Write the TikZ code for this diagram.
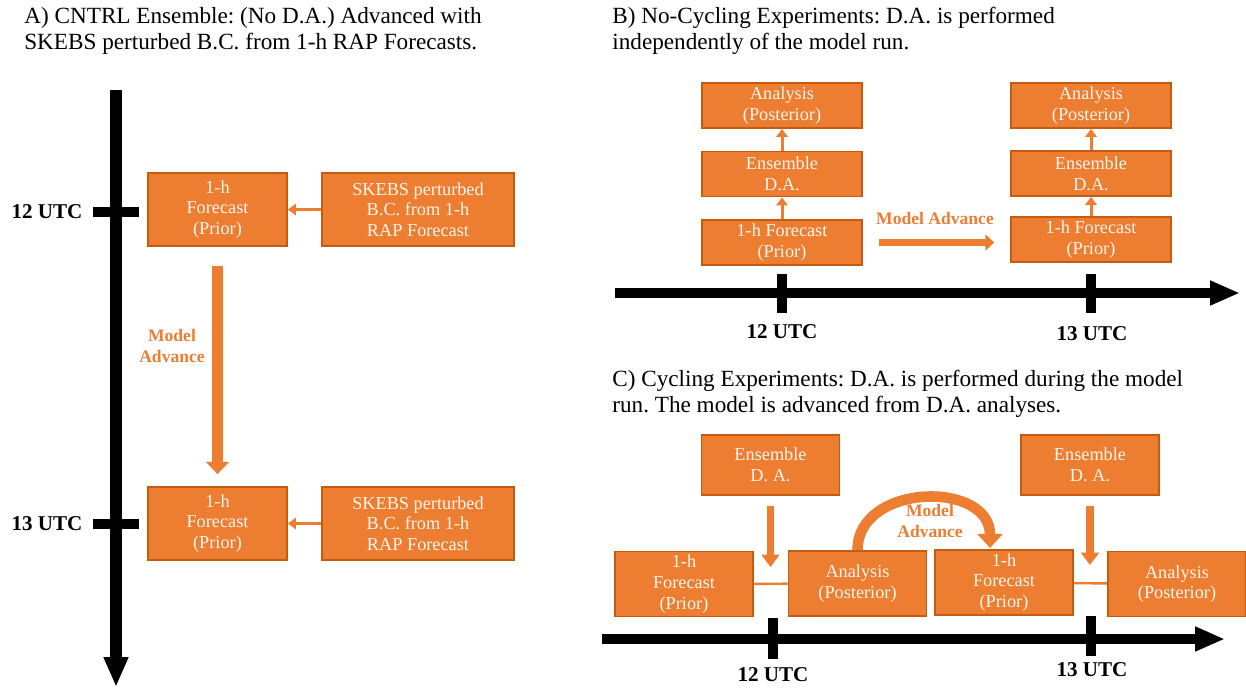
\documentclass[tikz,border=0pt]{standalone}
\usepackage{fontspec}
\setmainfont{Liberation Serif}
\usetikzlibrary{arrows.meta}
\definecolor{Orange}{HTML}{ED7D31}
\definecolor{OrangeLine}{HTML}{C55A11}
\definecolor{BoxText}{HTML}{FFF6EE}
\newcommand{\pxu}{0.02cm}
\newcommand{\titlefont}{\fontsize{13.2}{14.8}\selectfont}
\newcommand{\boxfont}{\fontsize{10.4}{11.8}\selectfont}
\newcommand{\utcfont}{\fontsize{12}{14}\selectfont\bfseries}
\newcommand{\advfont}{\fontsize{10}{12.4}\selectfont\bfseries}
\frenchspacing

\begin{document}
\begin{tikzpicture}[
  x=0.02cm, y=-0.02cm,
  box/.style={rectangle, draw=OrangeLine, line width=1.1pt, fill=Orange, text=BoxText, align=center, font=\boxfont, inner sep=0pt},
  boxA/.style={box, minimum width=139*\pxu, minimum height=73*\pxu},
  boxSk/.style={box, minimum width=192*\pxu, minimum height=73*\pxu},
  boxB/.style={box, minimum width=160*\pxu, minimum height=45*\pxu},
  boxC/.style={box, minimum width=138*\pxu, minimum height=65*\pxu},
  boxE/.style={box, minimum width=138*\pxu, minimum height=60*\pxu},
  title/.style={anchor=west, align=left, inner sep=0pt, font=\titlefont},
  utc/.style={inner sep=0pt, font=\utcfont},
  advance/.style={inner sep=0pt, align=center, text=Orange, font=\advfont},
  axis/.style={line width=5.7pt, -{Triangle[width=13pt,length=17pt]}},
  tick/.style={line width=5.7pt},
  thinarrow/.style={draw=Orange, line width=1.7pt, -{Triangle[width=6.5pt,length=4.5pt]}},
  bigarrow/.style={draw=Orange, line width=5.7pt, -{Triangle[width=13pt,length=7pt]}},
  link/.style={draw=Orange, line width=1.4pt}
]
\useasboundingbox (0,0) rectangle (1246,687);

% A) control ensemble
\node[title] (titleA) at (24,31) {A) CNTRL Ensemble: (No D.A.) Advanced with\\SKEBS perturbed B.C. from 1-h RAP Forecasts.};
\coordinate (axAtop) at (116,90);
\coordinate (axAend) at (116,687);
\draw[axis, line width=6.8pt] (axAtop) -- (axAend);
\draw[tick] (93,212) -- (139,212);
\draw[tick] (93,524) -- (139,524);
\node[utc] (utcA12) at (47,212) {12 UTC};
\node[utc] (utcA13) at (47,524) {13 UTC};

\node[boxA] (fcA12) at (217.5,209.5) {1-h\\Forecast\\(Prior)};
\node[boxSk] (skA12) at (418,209.5) {SKEBS perturbed\\B.C. from 1-h\\RAP Forecast};
\node[boxA] (fcA13) at (217.5,523.5) {1-h\\Forecast\\(Prior)};
\node[boxSk] (skA13) at (418,523.5) {SKEBS perturbed\\B.C. from 1-h\\RAP Forecast};

\draw[thinarrow] (skA12) -- (fcA12);
\draw[thinarrow] (skA13) -- (fcA13);
\draw[bigarrow, shorten <=11pt, shorten >=6.8pt] (fcA12) -- (fcA13);
\node[advance] (advA) at (172,346) {Model\\Advance};

% B) no-cycling
\node[title] (titleB) at (612,31) {B) No-Cycling Experiments: D.A. is performed\\independently of the model run.};
\node[boxB] (anB12) at (782,105.5) {Analysis\\(Posterior)};
\node[boxB] (daB12) at (782,174) {Ensemble\\D.A.};
\node[boxB] (fcB12) at (782,242.5) {1-h Forecast\\(Prior)};
\node[boxB] (anB13) at (1091,105.5) {Analysis\\(Posterior)};
\node[boxB] (daB13) at (1091,173.5) {Ensemble\\D.A.};
\node[boxB] (fcB13) at (1091,239.5) {1-h Forecast\\(Prior)};

\draw[thinarrow] (fcB12) -- (daB12);
\draw[thinarrow] (daB12) -- (anB12);
\draw[thinarrow] (fcB13) -- (daB13);
\draw[thinarrow] (daB13) -- (anB13);
\draw[bigarrow, line width=4.5pt, -{Triangle[width=9pt,length=5pt]}, shorten <=9pt, shorten >=9pt] (fcB12.east) -- (fcB12.east -| fcB13.west);
\node[advance] (advB) at (935,218) {Model Advance};

\coordinate (axBstart) at (615,293);
\coordinate (axBend) at (1240,293);
\draw[axis] (axBstart) -- (axBend);
\draw[tick] (782,274) -- (782,313);
\draw[tick] (1091,274) -- (1091,313);
\node[utc] (utcB12) at (782,332) {12 UTC};
\node[utc] (utcB13) at (1092,334) {13 UTC};

% C) cycling
\node[title] (titleC) at (612,393.5) {C) Cycling Experiments: D.A. is performed during the model\\run. The model is advanced from D.A. analyses.};
\node[boxE] (daC12) at (770.5,465) {Ensemble\\D. A.};
\node[boxE] (daC13) at (1090,465) {Ensemble\\D. A.};
\node[boxC] (fcC12) at (684,584) {1-h\\Forecast\\(Prior)};
\node[boxC] (anC12) at (857.5,583.5) {Analysis\\(Posterior)};
\node[boxC] (fcC13) at (1004,582.5) {1-h\\Forecast\\(Prior)};
\node[boxC] (anC13) at (1177,584) {Analysis\\(Posterior)};

\coordinate (dropC12) at (770.5,567);
\coordinate (dropC13) at (1090,565);
\coordinate (landC13) at (990,548);
\draw[bigarrow, line width=4.5pt, -{Triangle[width=10pt,length=7pt]}, shorten <=5.7pt] (daC12.south) -- (dropC12);
\draw[bigarrow, line width=4.5pt, -{Triangle[width=10pt,length=7pt]}, shorten <=5.7pt] (daC13.south) -- (dropC13);
\draw[link] (fcC12) -- (anC12);
\draw[link] (fcC13) -- (anC13);
\draw[bigarrow, line width=6pt, -{Triangle[width=14pt,length=8pt]}] (anC12.north) .. controls (857.5,483) and (990,480) .. (landC13);
\node[advance] (advC) at (930,521) {Model\\Advance};

\coordinate (axCstart) at (602,639);
\coordinate (axCend) at (1225,639);
\draw[axis] (axCstart) -- (axCend);
\draw[tick] (773,618) -- (773,659);
\draw[tick] (1091,616) -- (1091,656);
\node[utc] (utcC12) at (773,675) {12 UTC};
\node[utc] (utcC13) at (1092,670) {13 UTC};
\end{tikzpicture}
\end{document}
